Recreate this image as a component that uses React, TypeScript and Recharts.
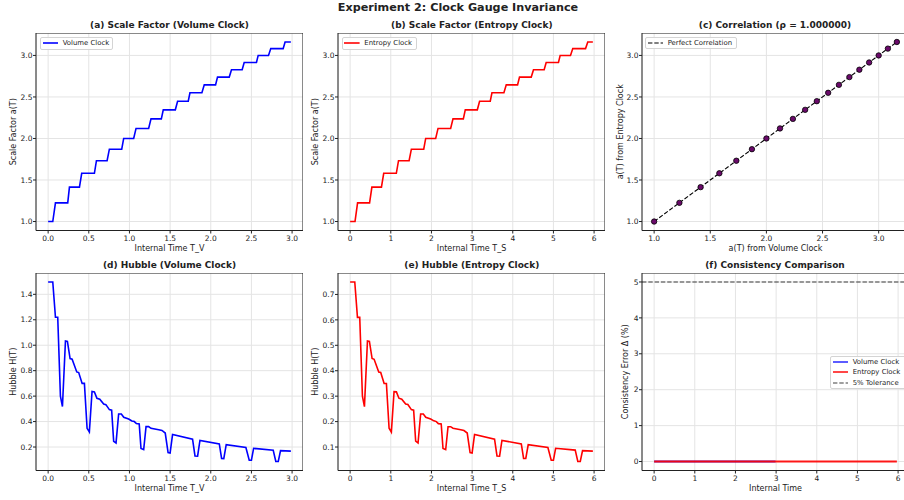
import React from "react"
import {
  LineChart,
  ComposedChart,
  Line,
  Scatter,
  XAxis,
  YAxis,
  CartesianGrid,
  ReferenceArea,
  ReferenceLine,
} from "recharts"

// scale factor plateaus (same for both clocks)
const scaleVolume = [1.0, 1.225, 1.414, 1.581, 1.732, 1.871, 2.0, 2.121, 2.236, 2.345, 2.449, 2.55, 2.646, 2.739, 2.828, 2.915, 3.0, 3.082, 3.162]
const scaleEntropy = [1.0, 1.225, 1.414, 1.581, 1.732, 1.871, 2.0, 2.121, 2.236, 2.345, 2.449, 2.55, 2.646, 2.739, 2.828, 2.915, 3.0, 3.082, 3.162]

// times where each plateau is left / the next one reached
const stepStartVolume = [0.057, 0.241, 0.385, 0.569, 0.725, 0.905, 1.052, 1.236, 1.392, 1.564, 1.723, 1.891, 2.059, 2.227, 2.386, 2.562, 2.71, 2.89]
const stepEndVolume = [0.09, 0.262, 0.413, 0.594, 0.753, 0.929, 1.081, 1.265, 1.416, 1.592, 1.744, 1.92, 2.083, 2.255, 2.411, 2.583, 2.738, 2.914]
const stepStartEntropy = [0.12, 0.478, 0.77, 1.136, 1.45, 1.81, 2.104, 2.472, 2.784, 3.128, 3.446, 3.782, 4.118, 4.454, 4.772, 5.124, 5.42, 5.79]
const stepEndEntropy = [0.183, 0.535, 0.826, 1.19, 1.506, 1.858, 2.162, 2.53, 2.832, 3.184, 3.488, 3.84, 4.166, 4.51, 4.822, 5.166, 5.476, 5.845]
const endTimeVolume = 2.985
const endTimeEntropy = 5.97

// Hubble rate along each clock
const hubbleTimeVolume = [0, 0.057, 0.09, 0.118, 0.151, 0.176, 0.213, 0.237, 0.27, 0.295, 0.352, 0.376, 0.418, 0.446, 0.479, 0.507, 0.54, 0.569, 0.6, 0.635, 0.683, 0.71, 0.753, 0.781, 0.806, 0.835, 0.867, 0.9, 0.93, 0.99, 1.03, 1.06, 1.085, 1.12, 1.142, 1.175, 1.204, 1.236, 1.265, 1.36, 1.4, 1.44, 1.475, 1.5, 1.53, 1.776, 1.806, 1.838, 1.867, 2.105, 2.133, 2.16, 2.19, 2.432, 2.473, 2.5, 2.527, 2.768, 2.8, 2.83, 2.858, 2.985]
const hubbleVolume = [1.497, 1.497, 1.22, 1.22, 0.6, 0.518, 1.033, 1.03, 0.895, 0.89, 0.79, 0.785, 0.7, 0.7, 0.347, 0.318, 0.636, 0.633, 0.583, 0.575, 0.538, 0.533, 0.494, 0.49, 0.245, 0.232, 0.46, 0.46, 0.434, 0.42, 0.405, 0.4, 0.384, 0.381, 0.188, 0.18, 0.36, 0.36, 0.347, 0.335, 0.33, 0.31, 0.156, 0.152, 0.298, 0.261, 0.13, 0.128, 0.252, 0.224, 0.11, 0.109, 0.218, 0.196, 0.096, 0.096, 0.19, 0.175, 0.086, 0.086, 0.172, 0.168]
const hubbleTimeEntropy = [0, 0.114, 0.18, 0.236, 0.302, 0.352, 0.426, 0.474, 0.54, 0.59, 0.704, 0.752, 0.836, 0.892, 0.958, 1.014, 1.08, 1.138, 1.2, 1.27, 1.366, 1.42, 1.506, 1.562, 1.612, 1.67, 1.734, 1.8, 1.86, 1.98, 2.06, 2.12, 2.17, 2.24, 2.284, 2.35, 2.408, 2.472, 2.53, 2.72, 2.8, 2.88, 2.95, 3.0, 3.06, 3.552, 3.612, 3.676, 3.734, 4.21, 4.266, 4.32, 4.38, 4.864, 4.946, 5.0, 5.054, 5.536, 5.6, 5.66, 5.716, 5.97]
const hubbleEntropy = [0.749, 0.749, 0.61, 0.61, 0.3, 0.259, 0.517, 0.515, 0.448, 0.445, 0.395, 0.393, 0.35, 0.35, 0.174, 0.159, 0.318, 0.317, 0.292, 0.288, 0.269, 0.267, 0.247, 0.245, 0.123, 0.116, 0.23, 0.23, 0.217, 0.21, 0.203, 0.2, 0.192, 0.191, 0.094, 0.09, 0.18, 0.18, 0.174, 0.168, 0.165, 0.155, 0.078, 0.076, 0.149, 0.131, 0.065, 0.064, 0.126, 0.112, 0.055, 0.055, 0.109, 0.098, 0.048, 0.048, 0.095, 0.088, 0.043, 0.043, 0.086, 0.084]

// consistency error (%) for each clock
const errorTimeVolume = [0, 2.985]
const errorVolume = [0, 0]
const errorTimeEntropy = [0, 5.97]
const errorEntropy = [0, 0]
const tolerance = 5
const correlation = 1.0

const ticksHalf = [0, 0.5, 1, 1.5, 2, 2.5, 3]
const ticksWhole = [0, 1, 2, 3, 4, 5, 6]
const ticksScale = [1, 1.5, 2, 2.5, 3]
const ticksHubbleV = [0.2, 0.4, 0.6, 0.8, 1.0, 1.2, 1.4]
const ticksHubbleS = [0.1, 0.2, 0.3, 0.4, 0.5, 0.6, 0.7]
const ticksError = [0, 1, 2, 3, 4, 5]

const FONT = "'DejaVu Sans', sans-serif"
const INK = "#222"
const BLUE = "#0000ff"
const RED = "#ff0000"
const PLOT_W = 267
const PLOT_H = 197.5
const Y_W = 40
const X_H = 26
const COL = [36, 338.3, 641.5]
const ROW = [33, 273.4]

// matplotlib-style 5% axis margins
const pad = (lo: number, hi: number): [number, number] => {
  const m = (hi - lo) * 0.05
  return [lo - m, hi + m]
}
const lo = (v: number[]) => Math.min(...v)
const hi = (v: number[]) => Math.max(...v)

function stepSeries(levels: number[], starts: number[], ends: number[], tEnd: number) {
  const pts: { t: number; a: number }[] = []
  levels.forEach((a, i) => {
    pts.push({ t: i === 0 ? 0 : ends[i - 1], a })
    pts.push({ t: i === levels.length - 1 ? tEnd : starts[i], a })
  })
  return pts
}

const scaleDataV = stepSeries(scaleVolume, stepStartVolume, stepEndVolume, endTimeVolume)
const scaleDataS = stepSeries(scaleEntropy, stepStartEntropy, stepEndEntropy, endTimeEntropy)
const hubbleDataV = hubbleTimeVolume.map((t, i) => ({ t, h: hubbleVolume[i] }))
const hubbleDataS = hubbleTimeEntropy.map((t, i) => ({ t, h: hubbleEntropy[i] }))
const corrPoints = scaleVolume.map((x, i) => ({ x, y: scaleEntropy[i] }))
const corrLine = [
  { x: lo(scaleVolume), y: lo(scaleVolume) },
  { x: hi(scaleVolume), y: hi(scaleVolume) },
]
const errDataV = errorTimeVolume.map((t, i) => ({ t, e: errorVolume[i] }))
const errDataS = errorTimeEntropy.map((t, i) => ({ t, e: errorEntropy[i] }))

const xV = pad(0, endTimeVolume)
const xS = pad(0, endTimeEntropy)
const yScale = pad(lo(scaleVolume), hi(scaleVolume))
const xCorr = pad(lo(scaleVolume), hi(scaleVolume))
const yCorr = pad(lo(scaleEntropy), hi(scaleEntropy))
const yHubV = pad(lo(hubbleVolume), hi(hubbleVolume))
const yHubS = pad(lo(hubbleEntropy), hi(hubbleEntropy))
const xErr = pad(0, Math.max(hi(errorTimeVolume), hi(errorTimeEntropy)))
const yErr = pad(Math.min(lo(errorVolume), lo(errorEntropy)), tolerance)

const fmt1 = (v: number) => v.toFixed(1)
const fmt0 = (v: number) => String(v)
const tickStyle = { fill: INK, fontSize: 7.5, fontFamily: FONT }

const xAxisProps = (key: string, domain: [number, number], ticks: number[], fmt: (v: number) => string, label: string) => ({
  type: "number" as const,
  dataKey: key,
  domain,
  ticks,
  interval: 0 as const,
  allowDataOverflow: true,
  height: X_H,
  tickSize: 3,
  tickMargin: 2.3,
  axisLine: false,
  tickLine: { stroke: INK },
  tick: tickStyle,
  tickFormatter: fmt,
  label: { value: label, position: "insideBottom" as const, offset: X_H - 20.7, fill: INK, fontSize: 8, fontFamily: FONT },
})

const yAxisProps = (domain: [number, number], ticks: number[], fmt: (v: number) => string, label: string, gap: number) => ({
  type: "number" as const,
  domain,
  ticks,
  interval: 0 as const,
  allowDataOverflow: true,
  width: Y_W,
  tickSize: 3,
  tickMargin: 0.5,
  axisLine: false,
  tickLine: { stroke: INK },
  tick: tickStyle,
  tickFormatter: fmt,
  label: { value: label, angle: -90, position: "center" as const, dx: Y_W / 2 - gap, fill: INK, fontSize: 8, fontFamily: FONT },
})

const chartSize = { width: Y_W + PLOT_W, height: PLOT_H + X_H, margin: { top: 0, right: 0, bottom: 0, left: 0 } }
const gridProps = { stroke: "#e4e4e4", strokeWidth: 1 }

function Frame(x: [number, number], y: [number, number]) {
  return <ReferenceArea x1={x[0]} x2={x[1]} y1={y[0]} y2={y[1]} fill="none" fillOpacity={0} stroke={INK} strokeWidth={1} ifOverflow="visible" />
}

function Slot({ col, row, children }: { col: number; row: number; children: React.ReactNode }) {
  return <div style={{ position: "absolute", left: COL[col] - Y_W, top: ROW[row] }}>{children}</div>
}

function Heading({ cx, baseline, size, children }: { cx: number; baseline: number; size: number; children: React.ReactNode }) {
  return (
    <div
      style={{
        position: "absolute",
        left: cx - 250,
        width: 500,
        top: baseline - 0.846 * size,
        textAlign: "center",
        fontSize: size,
        lineHeight: `${size}px`,
        fontWeight: "bold",
        whiteSpace: "nowrap",
      }}
    >
      {children}
    </div>
  )
}

type Key = { label: string; color: string; dash?: string; opacity?: number; width?: number }

function LegendBox({ left, top, width, keys }: { left: number; top: number; width: number; keys: Key[] }) {
  return (
    <div
      style={{
        position: "absolute",
        left,
        top,
        width,
        boxSizing: "border-box",
        border: "1px solid #d4d4d4",
        borderRadius: 2,
        background: "rgba(255,255,255,0.85)",
        paddingLeft: 1.7,
      }}
    >
      {keys.map((k) => (
        <div key={k.label} style={{ display: "flex", alignItems: "center", height: 10.3 }}>
          <svg width={15.6} height={4} style={{ flex: "none" }}>
            <line x1={0} y1={2} x2={15.6} y2={2} stroke={k.color} strokeWidth={k.width ?? 1.6} strokeDasharray={k.dash} strokeOpacity={k.opacity ?? 1} />
          </svg>
          <span style={{ marginLeft: 4.4, fontSize: 6.9, lineHeight: "10.3px", whiteSpace: "nowrap" }}>{k.label}</span>
        </div>
      ))}
    </div>
  )
}

const titleX = (col: number) => COL[col] + PLOT_W / 2

export default function App() {
  return (
    <div
      style={{
        position: "absolute",
        left: 0,
        top: 0,
        width: 904,
        height: 500,
        overflow: "hidden",
        background: "#fff",
        fontFamily: FONT,
        color: INK,
      }}
    >
      <Heading cx={458} baseline={11.8} size={11.2}>Experiment 2: Clock Gauge Invariance</Heading>
      <Heading cx={titleX(0)} baseline={28.5} size={9}>(a) Scale Factor (Volume Clock)</Heading>
      <Heading cx={titleX(1)} baseline={28.5} size={9}>(b) Scale Factor (Entropy Clock)</Heading>
      <Heading cx={titleX(2)} baseline={28.5} size={9}>{`(c) Correlation (ρ = ${correlation.toFixed(6)})`}</Heading>
      <Heading cx={titleX(0)} baseline={269} size={9}>(d) Hubble (Volume Clock)</Heading>
      <Heading cx={titleX(1)} baseline={269} size={9}>(e) Hubble (Entropy Clock)</Heading>
      <Heading cx={titleX(2)} baseline={269} size={9}>(f) Consistency Comparison</Heading>

      <Slot col={0} row={0}>
        <LineChart {...chartSize} data={scaleDataV}>
          <CartesianGrid {...gridProps} />
          <XAxis {...xAxisProps("t", xV, ticksHalf, fmt1, "Internal Time T_V")} />
          <YAxis {...yAxisProps(yScale, ticksScale, fmt1, "Scale Factor a(T)", 22.7)} />
          <Line type="linear" dataKey="a" stroke={BLUE} strokeWidth={1.6} dot={false} isAnimationActive={false} />
          {Frame(xV, yScale)}
        </LineChart>
      </Slot>

      <Slot col={1} row={0}>
        <LineChart {...chartSize} data={scaleDataS}>
          <CartesianGrid {...gridProps} />
          <XAxis {...xAxisProps("t", xS, ticksWhole, fmt0, "Internal Time T_S")} />
          <YAxis {...yAxisProps(yScale, ticksScale, fmt1, "Scale Factor a(T)", 22.5)} />
          <Line type="linear" dataKey="a" stroke={RED} strokeWidth={1.6} dot={false} isAnimationActive={false} />
          {Frame(xS, yScale)}
        </LineChart>
      </Slot>

      <Slot col={2} row={0}>
        <ComposedChart {...chartSize}>
          <CartesianGrid {...gridProps} />
          <XAxis {...xAxisProps("x", xCorr, ticksScale, fmt1, "a(T) from Volume Clock")} />
          <YAxis {...yAxisProps(yCorr, ticksScale, fmt1, "a(T) from Entropy Clock", 22)} />
          <Line data={corrLine} type="linear" dataKey="y" stroke="#000" strokeWidth={1.1} strokeDasharray="4.4 1.9" dot={false} isAnimationActive={false} />
          <Scatter
            data={corrPoints}
            dataKey="y"
            isAnimationActive={false}
            shape={(p: any) => <circle cx={p.cx} cy={p.cy} r={2.7} fill="#6a0a6a" stroke="#000" strokeWidth={0.8} />}
          />
          {Frame(xCorr, yCorr)}
        </ComposedChart>
      </Slot>

      <Slot col={0} row={1}>
        <LineChart {...chartSize} data={hubbleDataV}>
          <CartesianGrid {...gridProps} />
          <XAxis {...xAxisProps("t", xV, ticksHalf, fmt1, "Internal Time T_V")} />
          <YAxis {...yAxisProps(yHubV, ticksHubbleV, fmt1, "Hubble H(T)", 23)} />
          <Line type="linear" dataKey="h" stroke={BLUE} strokeWidth={1.6} dot={false} isAnimationActive={false} />
          {Frame(xV, yHubV)}
        </LineChart>
      </Slot>

      <Slot col={1} row={1}>
        <LineChart {...chartSize} data={hubbleDataS}>
          <CartesianGrid {...gridProps} />
          <XAxis {...xAxisProps("t", xS, ticksWhole, fmt0, "Internal Time T_S")} />
          <YAxis {...yAxisProps(yHubS, ticksHubbleS, fmt1, "Hubble H(T)", 22.6)} />
          <Line type="linear" dataKey="h" stroke={RED} strokeWidth={1.6} dot={false} isAnimationActive={false} />
          {Frame(xS, yHubS)}
        </LineChart>
      </Slot>

      <Slot col={2} row={1}>
        <LineChart {...chartSize}>
          <CartesianGrid {...gridProps} />
          <XAxis {...xAxisProps("t", xErr, ticksWhole, fmt0, "Internal Time")} />
          <YAxis {...yAxisProps(yErr, ticksError, fmt0, "Consistency Error Δ (%)", 16.7)} />
          <ReferenceLine y={tolerance} stroke="#000" strokeOpacity={0.75} strokeWidth={1.2} strokeDasharray="4.4 1.9" />
          <Line data={errDataV} type="linear" dataKey="e" stroke={BLUE} strokeOpacity={0.8} strokeWidth={1.8} dot={false} isAnimationActive={false} />
          <Line data={errDataS} type="linear" dataKey="e" stroke={RED} strokeOpacity={0.9} strokeWidth={1.8} dot={false} isAnimationActive={false} />
          {Frame(xErr, yErr)}
        </LineChart>
      </Slot>

      <LegendBox left={40} top={37.3} width={73.3} keys={[{ label: "Volume Clock", color: BLUE }]} />
      <LegendBox left={341.7} top={37.3} width={75.6} keys={[{ label: "Entropy Clock", color: RED }]} />
      <LegendBox left={645} top={37} width={91.7} keys={[{ label: "Perfect Correlation", color: "#000", dash: "4.4 1.9", width: 1.1 }]} />
      <LegendBox
        left={830}
        top={356}
        width={78}
        keys={[
          { label: "Volume Clock", color: BLUE, opacity: 0.8 },
          { label: "Entropy Clock", color: RED, opacity: 0.9 },
          { label: "5% Tolerance", color: "#000", dash: "4.4 1.9", opacity: 0.75, width: 1.2 },
        ]}
      />
    </div>
  )
}
